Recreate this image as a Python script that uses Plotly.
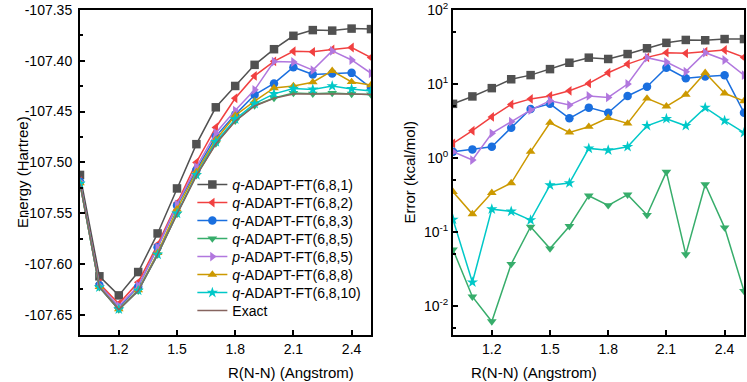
import plotly.graph_objects as go

# ---------------- data ----------------
R = [1.0, 1.1, 1.2, 1.3, 1.4, 1.5, 1.6, 1.7, 1.8, 1.9, 2.0, 2.1, 2.2, 2.3, 2.4, 2.5]

series_names = [
    "<i>q</i>-ADAPT-FT(6,8,1)",
    "<i>q</i>-ADAPT-FT(6,8,2)",
    "<i>q</i>-ADAPT-FT(6,8,3)",
    "<i>q</i>-ADAPT-FT(6,8,5)",
    "<i>p</i>-ADAPT-FT(6,8,5)",
    "<i>q</i>-ADAPT-FT(6,8,8)",
    "<i>q</i>-ADAPT-FT(6,8,10)",
]
exact_name = "Exact"

# Energies (Hartree)
E_q681 = [-107.5124, -107.6122, -107.6310, -107.6080, -107.5700, -107.5257, -107.4821, -107.4458,
          -107.4248, -107.4040, -107.3886, -107.3754, -107.3698, -107.3703, -107.3683, -107.3688]
E_q682 = [-107.5185, -107.6193, -107.6393, -107.6181, -107.5810, -107.5400, -107.5001, -107.4657,
          -107.4369, -107.4149, -107.4005, -107.3906, -107.3912, -107.3888, -107.3869, -107.3968]
E_q683 = [-107.5191, -107.6209, -107.6427, -107.6224, -107.5837, -107.5424, -107.5075, -107.4744,
          -107.4530, -107.4335, -107.4223, -107.4063, -107.4135, -107.4124, -107.4119, -107.4268]
E_q685 = [-107.5209, -107.6230, -107.6450, -107.6264, -107.5908, -107.5509, -107.5128, -107.4815,
          -107.4591, -107.4440, -107.4367, -107.4318, -107.4325, -107.4318, -107.4326, -107.4333]
E_p685 = [-107.5191, -107.6215, -107.6416, -107.6216, -107.5839, -107.5415, -107.5047, -107.4710,
          -107.4490, -107.4286, -107.4008, -107.4012, -107.4092, -107.3903, -107.3992, -107.4123]
E_q688 = [-107.5204, -107.6227, -107.6445, -107.6258, -107.5891, -107.5462, -107.5095, -107.4778,
          -107.4539, -107.4398, -107.4268, -107.4248, -107.4211, -107.4099, -107.4208, -107.4239]
E_q6810 = [-107.5208, -107.6230, -107.6447, -107.6262, -107.5908, -107.5503, -107.5123, -107.4798,
           -107.4575, -107.4422, -107.4326, -107.4274, -107.4282, -107.4249, -107.4277, -107.4298]
E_exact = [-107.5210, -107.6230, -107.6450, -107.6265, -107.5910, -107.5510, -107.5130, -107.4820,
           -107.4595, -107.4445, -107.4370, -107.4328, -107.4326, -107.4325, -107.4328, -107.4333]

# Errors (kcal/mol)
err_q681 = [5.4, 6.8, 8.8, 11.6, 13.2, 15.9, 19.4, 22.7, 21.8, 25.4, 30.4, 36.0, 39.4, 39.0, 40.5, 40.5]
err_q682 = [1.58, 2.34, 3.6, 5.3, 6.3, 6.9, 8.1, 10.2, 14.2, 18.6, 22.9, 26.5, 26.0, 27.4, 28.8, 22.9]
err_q683 = [1.22, 1.31, 1.42, 2.57, 4.6, 5.4, 3.44, 4.8, 4.1, 6.9, 9.2, 16.6, 12.0, 12.6, 13.1, 4.1]
err_q685 = [0.058, 0.0134, 0.0062, 0.037, 0.118, 0.060, 0.12, 0.31, 0.23, 0.32, 0.17, 0.65, 0.050, 0.44, 0.115, 0.016]
err_p685 = [1.22, 0.94, 2.16, 3.1, 4.45, 5.96, 5.2, 6.9, 6.6, 10.0, 22.7, 19.8, 14.7, 26.5, 21.1, 13.2]
err_q688 = [0.35, 0.175, 0.34, 0.46, 1.22, 3.0, 2.22, 2.65, 3.5, 2.94, 6.4, 5.0, 7.2, 14.2, 7.5, 5.9]
err_q6810 = [0.148, 0.021, 0.204, 0.19, 0.145, 0.43, 0.46, 1.35, 1.28, 1.42, 2.73, 3.4, 2.73, 4.8, 3.2, 2.2]

energies = [E_q681, E_q682, E_q683, E_q685, E_p685, E_q688, E_q6810]
errors = [err_q681, err_q682, err_q683, err_q685, err_p685, err_q688, err_q6810]

# tick labels
x_ticks = [1.2, 1.5, 1.8, 2.1, 2.4]
x_ticktext = ["1.2", "1.5", "1.8", "2.1", "2.4"]
e_ticks = [-107.65, -107.60, -107.55, -107.50, -107.45, -107.40, -107.35]
e_ticktext = ["-107.65", "-107.60", "-107.55", "-107.50", "-107.45", "-107.40", "-107.35"]
err_ticks = [0.01, 0.1, 1, 10, 100]
err_ticktext = ["10<sup>-2</sup>", "10<sup>-1</sup>", "10<sup>0</sup>", "10<sup>1</sup>", "10<sup>2</sup>"]
err_minor = [0.005, 0.05, 0.5, 5, 50]

# ---------------- style ----------------
colors = ["#515151", "#F14040", "#1A6FDF", "#37AD6B", "#B177DE", "#CC9900", "#00C8C8"]
exact_color = "#86645f"
symbols = ["square", "triangle-left", "circle", "triangle-down", "triangle-right", "triangle-up", "star"]
FONT = "Arial, 'Liberation Sans', sans-serif"

W, H = 747, 382
T, B = 10, 47
PH = H - T - B
L1, R1 = 80, 371
L2, R2 = 453, 744

legend_ids = ["legend"] + ["legend%d" % i for i in range(2, 9)]
legend_y_px = [185 + 18.0 * i for i in range(8)]

fig = go.Figure()

for i, (name, e, c, s) in enumerate(zip(series_names, energies, colors, symbols)):
    fig.add_trace(go.Scatter(
        x=R, y=e, name=name, mode="lines+markers",
        line=dict(color=c, width=1.5),
        marker=dict(symbol=s, size=8.5, color=c),
        xaxis="x", yaxis="y", legend=legend_ids[i],
    ))
fig.add_trace(go.Scatter(
    x=R, y=E_exact, name=exact_name, mode="lines",
    line=dict(color=exact_color, width=1.5),
    xaxis="x", yaxis="y", legend=legend_ids[7],
))

for name, er, c, s in zip(series_names, errors, colors, symbols):
    fig.add_trace(go.Scatter(
        x=R, y=er, name=name, mode="lines+markers",
        line=dict(color=c, width=1.5),
        marker=dict(symbol=s, size=8.5, color=c),
        xaxis="x2", yaxis="y2", showlegend=False,
    ))

axis_common = dict(
    showline=True, linecolor="black", linewidth=2, mirror=True,
    ticks="inside", ticklen=5, tickwidth=1.5, tickcolor="black",
    showgrid=False, zeroline=False,
    tickfont=dict(family=FONT, size=14, color="black"),
)

legend_layouts = {}
for lid, ypx in zip(legend_ids, legend_y_px):
    legend_layouts[lid] = dict(
        x=0.2575, y=(H - B - ypx) / PH, xanchor="left", yanchor="middle",
        bgcolor="rgba(0,0,0,0)", borderwidth=0,
        font=dict(family=FONT, size=14, color="black"),
    )

fig.update_layout(
    width=W, height=H,
    margin=dict(l=0, r=0, t=T, b=B),
    paper_bgcolor="white", plot_bgcolor="white",
    font=dict(family=FONT, size=14, color="black"),
    xaxis=dict(domain=[L1 / W, R1 / W], range=[1.0, 2.5], tickvals=x_ticks, ticktext=x_ticktext,
               anchor="y", **axis_common),
    yaxis=dict(domain=[0, 1], range=[-107.67, -107.35], tickvals=e_ticks, ticktext=e_ticktext,
               anchor="x", ticklabelstandoff=3,
               minor=dict(ticks="inside", ticklen=3, tickcolor="black", dtick=0.025, tick0=-107.35),
               **axis_common),
    xaxis2=dict(domain=[L2 / W, R2 / W], range=[1.0, 2.5], tickvals=x_ticks, ticktext=x_ticktext,
                anchor="y2", **axis_common),
    yaxis2=dict(domain=[0, 1], type="log", range=[-2.39, 2], tickvals=err_ticks, ticktext=err_ticktext,
                anchor="x2",
                minor=dict(ticks="inside", ticklen=3, tickcolor="black", tickvals=err_minor),
                **axis_common),
    shapes=[dict(type="rect", xref="x2 domain", yref="y2", x0=0, x1=1, y0=-3, y1=0,
                 fillcolor="#ebebeb", line=dict(width=0), layer="below")],
    annotations=[
        dict(text="Energy (Hartree)", x=12 / W, y=0.5, xref="paper", yref="paper",
             textangle=-90, showarrow=False, font=dict(family=FONT, size=15)),
        dict(text="Error (kcal/mol)", x=409 / W, y=0.5, xref="paper", yref="paper",
             textangle=-90, showarrow=False, font=dict(family=FONT, size=15)),
        dict(text="R(N-N) (Angstrom)", x=(L1 + R1) / 2 / W, y=-37 / PH, xref="paper", yref="paper",
             showarrow=False, font=dict(family=FONT, size=15), yanchor="middle"),
        dict(text="R(N-N) (Angstrom)", x=(L2 + R2) / 2 / W, y=-37 / PH, xref="paper", yref="paper",
             showarrow=False, font=dict(family=FONT, size=15), yanchor="middle"),
    ],
    **legend_layouts,
)

fig.write_html("out.html", config={"displayModeBar": False},
               post_script="document.body.style.margin='0';")
